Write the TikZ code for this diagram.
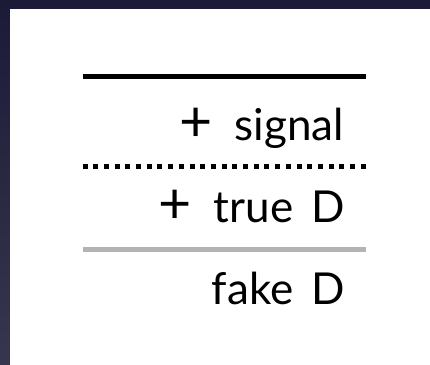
\documentclass[tikz,border=0pt]{standalone}
\usepackage{graphicx}
\usepackage{fontspec}
\setmainfont[WordSpace=1.6]{Lato}
\definecolor{navytop}{HTML}{1B1B38}
\definecolor{navybot}{HTML}{36364E}
\definecolor{rulegray}{HTML}{B3B3B3}
\newcommand{\bigplus}{\raisebox{-1.5pt}{\scalebox{1.3}{+}}\hspace{4pt} }
\begin{document}
\begin{tikzpicture}[x=1pt,y=-1pt,
  lbl/.style={anchor=base east,inner sep=0pt,font=\fontsize{44}{50}\selectfont},
  rulebar/.style={line width=5pt}]
% dark frame behind the card
\useasboundingbox (0,0) rectangle (430,364);
\shade[top color=navytop,bottom color=navybot] (0,0) rectangle (430,364);
\fill[white] (10,9) rectangle (431,365);
% rules
\coordinate (r1a) at (82.5,76);  \coordinate (r1b) at (365.5,76);
\coordinate (r2a) at (82.5,166); \coordinate (r2b) at (365.5,166);
\coordinate (r3a) at (82.5,249); \coordinate (r3b) at (365.5,249);
\draw[rulebar,black] (r1a) -- (r1b);
\draw[rulebar,black,dash pattern=on 5pt off 5.7pt] (r2a) -- (r2b);
\draw[rulebar,rulegray] (r3a) -- (r3b);
% labels
\node[lbl] (sig) at (344,140) {\bigplus signal};
\node[lbl] (tru) at (345,222) {\bigplus true D};
\node[lbl] (fak) at (345,304) {fake D};
\end{tikzpicture}
\end{document}
